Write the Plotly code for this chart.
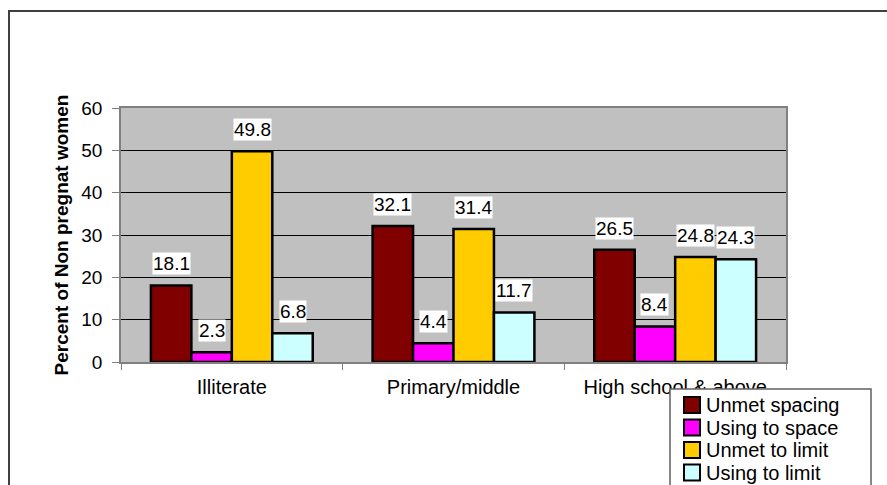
import plotly.graph_objects as go

# Education level groups and the four family-planning measures
categories = ["Illiterate", "Primary/middle", "High school & above"]
series_names = ["Unmet spacing", "Using to space", "Unmet to limit", "Using to limit"]
unmet_spacing = [18.1, 32.1, 26.5]
using_to_space = [2.3, 4.4, 8.4]
unmet_to_limit = [49.8, 31.4, 24.8]
using_to_limit = [6.8, 11.7, 24.3]
series_values = [unmet_spacing, using_to_space, unmet_to_limit, using_to_limit]
colors = ["#800000", "#FF00FF", "#FFCC00", "#CCFFFF"]
y_ticks = [0, 10, 20, 30, 40, 50, 60]

FONT = "Liberation Sans, Arial, sans-serif"
BARGAP = 0.27

# figure geometry (pixels)
W, H = 887, 485
ML, MR, MT, MB = 121, 101, 108, 123
PW, PH = W - ML - MR, H - MT - MB


def px_x(px):
    return (px - ML) / PW


def px_y(py):
    return (H - MB - py) / PH


fig = go.Figure()
for name, vals, col in zip(series_names, series_values, colors):
    fig.add_trace(go.Bar(
        x=categories, y=vals, name=name, showlegend=False,
        marker=dict(color=col, line=dict(color="black", width=2.5)),
    ))

# value labels on white boxes above each bar
n = len(series_values)
bw = (1 - BARGAP) / n
for i, vals in enumerate(series_values):
    off = -(1 - BARGAP) / 2 + bw * (i + 0.5)
    for j, v in enumerate(vals):
        fig.add_annotation(
            x=j + off, y=v, xref="x", yref="y",
            text=f"{v:.1f}", showarrow=False,
            yanchor="bottom", yshift=10,
            bgcolor="white", borderpad=0,
            font=dict(family=FONT, size=19, color="black"),
        )

# outer chart frame
fig.add_shape(type="rect", xref="paper", yref="paper",
              x0=px_x(9), x1=px_x(900), y0=px_y(520), y1=px_y(11),
              line=dict(color="#404040", width=2), fillcolor="rgba(0,0,0,0)",
              layer="below")

# legend box with swatches and labels
fig.add_shape(type="rect", xref="paper", yref="paper",
              x0=px_x(670), x1=px_x(871), y0=px_y(520), y1=px_y(389),
              line=dict(color="#606060", width=1.5), fillcolor="white",
              layer="above")
row_h = 22.5
for k, (name, col) in enumerate(zip(series_names, colors)):
    cy = 405 + k * row_h
    fig.add_shape(type="rect", xref="paper", yref="paper",
                  x0=px_x(684), x1=px_x(700), y0=px_y(cy + 8), y1=px_y(cy - 8),
                  line=dict(color="black", width=2), fillcolor=col,
                  layer="above")
    fig.add_annotation(
        x=px_x(704), y=px_y(cy), xref="paper", yref="paper",
        text=name, showarrow=False, xanchor="left", yanchor="middle",
        font=dict(family=FONT, size=20, color="black"),
    )

fig.update_layout(
    width=W, height=H,
    margin=dict(l=ML, r=MR, t=MT, b=MB),
    paper_bgcolor="white", plot_bgcolor="#C0C0C0",
    barmode="group", bargap=BARGAP, bargroupgap=0,
    font=dict(family=FONT, size=16, color="black"),
    showlegend=False,
    xaxis=dict(
        type="category", showgrid=False, zeroline=False,
        showline=True, linecolor="#808080", linewidth=1.5, mirror=True,
        ticks="outside", tickson="boundaries", ticklen=6, tickcolor="#808080",
        tickfont=dict(family=FONT, size=20, color="black"),
        ticklabelstandoff=6,
    ),
    yaxis=dict(
        range=[0, 60], tickvals=y_ticks, ticktext=[str(t) for t in y_ticks],
        showgrid=True, gridcolor="black", gridwidth=1, zeroline=False,
        showline=True, linecolor="#808080", linewidth=1.5, mirror=True,
        ticks="outside", ticklen=7, tickcolor="#808080",
        tickfont=dict(family=FONT, size=19, color="black"),
        ticklabelstandoff=6,
        title=dict(text="<b>Percent of Non pregnat women</b>", standoff=8,
                   font=dict(family=FONT, size=19, color="black")),
    ),
)

fig.write_html("out.html")
